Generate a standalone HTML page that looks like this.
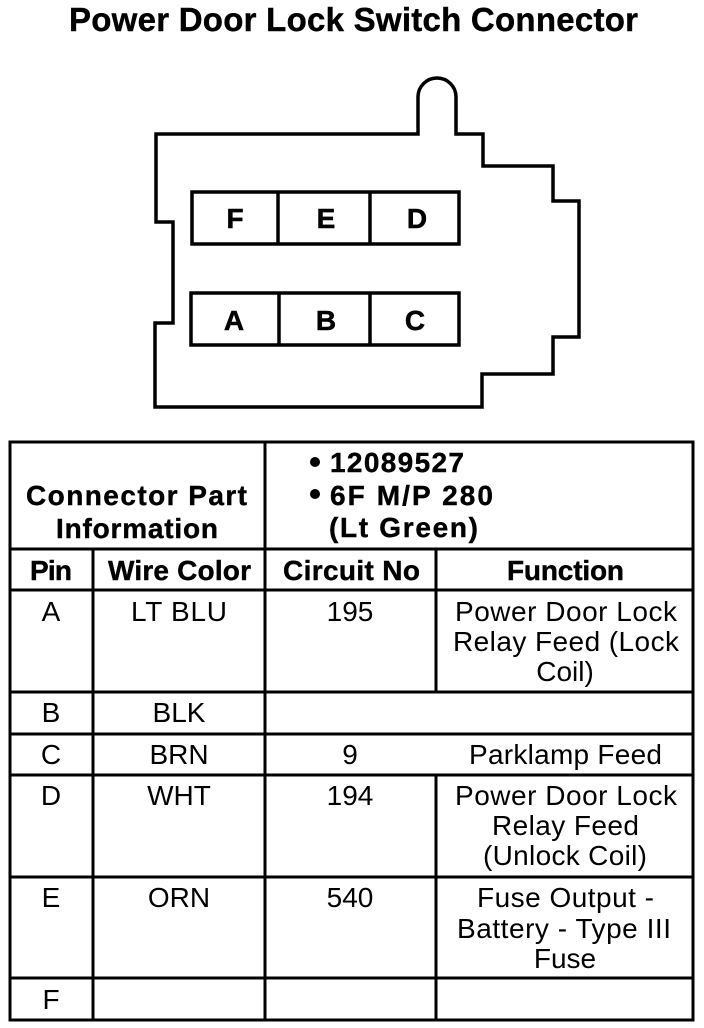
<!DOCTYPE html>
<html><head><meta charset="utf-8"><style>
html,body{margin:0;padding:0;background:#fff}
svg{display:block}
text{font-family:"Liberation Sans",Arial,sans-serif;fill:#000;font-size:28px}
.b{font-weight:bold;stroke:#000;stroke-width:.4px}
.t{font-size:33px}
.k{font-weight:bold;font-size:28px;stroke:#000;stroke-width:.5px}
</style></head><body>
<svg width="704" height="1028" viewBox="0 0 704 1028" xmlns="http://www.w3.org/2000/svg">
<text class="b t" x="69" y="31" textLength="569">Power Door Lock Switch Connector</text>
<path d="M156 134H418V97A19 19 0 0 1 456 97V134H483V166H553V201H579V337H553V374H482V407H155V323H173V222H156Z" fill="none" stroke="#000" stroke-width="3.5"/>
<g fill="none" stroke="#000" stroke-width="3.5">
<rect x="192" y="192" width="267" height="52"/><path d="M278 192V244M370 192V244"/>
<rect x="191" y="293" width="268" height="52"/><path d="M279 293V345M370 293V345"/>
</g>
<text class="k" x="235" y="228" text-anchor="middle">F</text><text class="k" x="326" y="228" text-anchor="middle">E</text><text class="k" x="417" y="228" text-anchor="middle">D</text>
<text class="k" x="234" y="330" text-anchor="middle">A</text><text class="k" x="326" y="330" text-anchor="middle">B</text><text class="k" x="415" y="330" text-anchor="middle">C</text>
<g fill="none" stroke="#000" stroke-width="3">
<rect x="10" y="442" width="683" height="578"/>
<path d="M10 549H693M10 590H693M10 692H693M10 734H693M10 775H693M10 877H693M10 978H693"/>
<path d="M265 442V1020M93 549V1020M436 549V692M436 775V1020"/>
</g>
<text class="b" x="26" y="505" textLength="221">Connector Part</text>
<text class="b" x="56" y="538" textLength="162">Information</text>
<circle cx="315" cy="462" r="5"/><circle cx="315" cy="494" r="5"/>
<text class="b" x="330" y="472" textLength="134">12089527</text>
<text class="b" x="330" y="505" textLength="163">6F M/P 280</text>
<text class="b" x="329" y="537" textLength="149">(Lt Green)</text>
<text class="b" x="30" y="580" textLength="42">Pin</text>
<text class="b" x="108" y="580" textLength="143">Wire Color</text>
<text class="b" x="283" y="580" textLength="137">Circuit No</text>
<text class="b" x="507" y="580" textLength="117">Function</text>
<text x="51" y="621" text-anchor="middle">A</text>
<text x="131" y="621" textLength="96">LT BLU</text>
<text x="350" y="621" text-anchor="middle">195</text>
<text x="455" y="621" textLength="222">Power Door Lock</text>
<text x="453" y="651" textLength="226">Relay Feed (Lock</text>
<text x="565" y="681" text-anchor="middle">Coil)</text>
<text x="51" y="722" text-anchor="middle">B</text>
<text x="179" y="722" text-anchor="middle">BLK</text>
<text x="51" y="764" text-anchor="middle">C</text>
<text x="179" y="764" text-anchor="middle">BRN</text>
<text x="350" y="764" text-anchor="middle">9</text>
<text x="469" y="764" textLength="193">Parklamp Feed</text>
<text x="51" y="805" text-anchor="middle">D</text>
<text x="179" y="805" text-anchor="middle">WHT</text>
<text x="350" y="805" text-anchor="middle">194</text>
<text x="455" y="805" textLength="222">Power Door Lock</text>
<text x="492" y="835" textLength="147">Relay Feed</text>
<text x="483" y="865" textLength="164">(Unlock Coil)</text>
<text x="51" y="907" text-anchor="middle">E</text>
<text x="179" y="907" text-anchor="middle">ORN</text>
<text x="350" y="907" text-anchor="middle">540</text>
<text x="477" y="907" textLength="177">Fuse Output -</text>
<text x="457" y="938" textLength="214">Battery - Type III</text>
<text x="565" y="968" text-anchor="middle">Fuse</text>
<text x="51" y="1009" text-anchor="middle">F</text>
</svg>
</body></html>
